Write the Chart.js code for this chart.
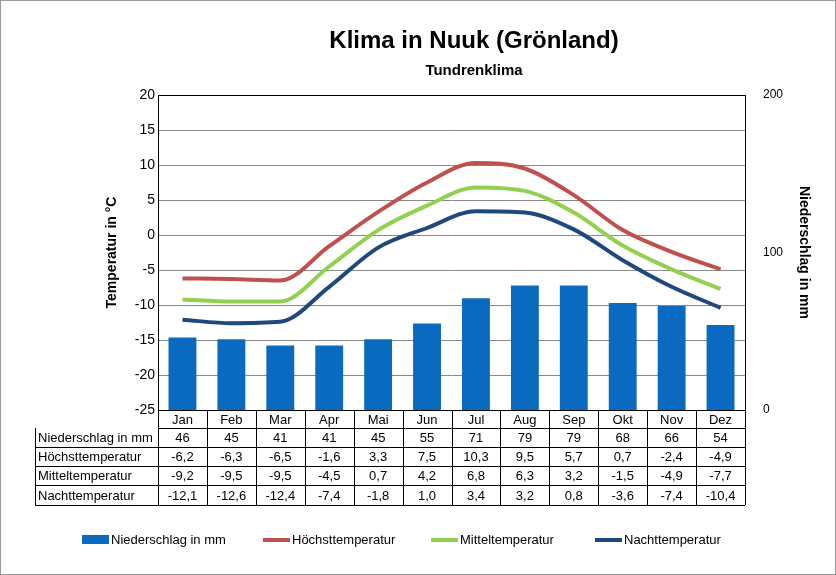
<!DOCTYPE html><html><head><meta charset="utf-8">
<script src="https://cdn.jsdelivr.net/npm/chart.js@4"></script>
<style>body{margin:0;background:#fff}#w{width:836px;height:575px;position:relative}</style></head><body>
<div id="w"><canvas id="c" width="836" height="575"></canvas></div>
<script>
const months=['Jan','Feb','Mar','Apr','Mai','Jun','Jul','Aug','Sep','Okt','Nov','Dez'];
const niederschlag=[46,45,41,41,45,55,71,79,79,68,66,54];
const hoechst=[-6.2,-6.3,-6.5,-1.6,3.3,7.5,10.3,9.5,5.7,0.7,-2.4,-4.9];
const mittel=[-9.2,-9.5,-9.5,-4.5,0.7,4.2,6.8,6.3,3.2,-1.5,-4.9,-7.7];
const nacht=[-12.1,-12.6,-12.4,-7.4,-1.8,1.0,3.4,3.2,0.8,-3.6,-7.4,-10.4];
const rowNames=['Niederschlag in mm','Höchsttemperatur','Mitteltemperatur','Nachttemperatur'];
const colors=['#0A6ABF','#C0504D','#92D050','#1F497D'];
const deco={id:'deco',afterDraw(ch){
 const c=ch.ctx,a=ch.chartArea,xs=ch.scales.x;
 c.save();
 c.strokeStyle='#999';c.lineWidth=1;c.strokeRect(0.5,0.5,835,574);
 c.fillStyle='#000';c.textAlign='center';
 c.font='bold 24px Arial, "Liberation Sans"';c.fillText('Klima in Nuuk (Grönland)',474,48);
 c.font='bold 15px Arial, "Liberation Sans"';c.fillText('Tundrenklima',474,75);
 c.strokeStyle='#000';c.strokeRect(a.left+0.5,a.top+0.5,a.right-a.left,a.bottom-a.top);
 const rows=[410,428,447,466,485,505];const L=35;
 const w=(a.right-a.left)/12;
 c.beginPath();
 for(let i=0;i<rows.length;i++){const x0=i<=1?a.left:L;c.moveTo(x0,rows[i]+0.5);c.lineTo(a.right,rows[i]+0.5);}
 for(let k=0;k<=12;k++){const x=Math.round(a.left+k*w)+0.5;c.moveTo(x,rows[0]);c.lineTo(x,rows[5]);}
 c.moveTo(L+0.5,rows[1]);c.lineTo(L+0.5,rows[5]);
 c.stroke();
 const data=[niederschlag,hoechst,mittel,nacht];
 c.font='13px Arial, "Liberation Sans"';c.textBaseline='middle';
 months.forEach((m,i)=>c.fillText(m,xs.getPixelForValue(i),(rows[0]+rows[1])/2+1));
 for(let r=0;r<4;r++){const y=(rows[r+1]+rows[r+2])/2+1;
  c.textAlign='left';c.fillText(rowNames[r],L+3,y);c.textAlign='center';
  data[r].forEach((v,i)=>{const t=r==0?String(v):v.toFixed(1).replace('.',',');c.fillText(t,xs.getPixelForValue(i),y);});}
 const items=[[82,'Niederschlag in mm',0],[263,'Höchsttemperatur',1],[431,'Mitteltemperatur',2],[595,'Nachttemperatur',3]];
 c.textAlign='left';
 items.forEach(([x,t,i])=>{c.fillStyle=colors[i];
  if(i==0)c.fillRect(x,535,27,9);else c.fillRect(x,538,27,4);
  c.fillStyle='#000';c.fillText(t,x+29,540);});
 c.restore();}};
new Chart(document.getElementById('c'),{
 data:{labels:months,datasets:[
  {type:'bar',label:'Niederschlag in mm',data:niederschlag,yAxisID:'y2',backgroundColor:colors[0],barPercentage:0.57,categoryPercentage:1,order:2},
  {type:'line',label:'Höchsttemperatur',data:hoechst,yAxisID:'y',borderColor:colors[1],borderWidth:4,pointRadius:0,cubicInterpolationMode:'monotone',order:1},
  {type:'line',label:'Mitteltemperatur',data:mittel,yAxisID:'y',borderColor:colors[2],borderWidth:4,pointRadius:0,cubicInterpolationMode:'monotone',order:1},
  {type:'line',label:'Nachttemperatur',data:nacht,yAxisID:'y',borderColor:colors[3],borderWidth:4,pointRadius:0,cubicInterpolationMode:'monotone',order:1}]},
 options:{responsive:false,animation:false,
  layout:{padding:{left:100,right:20,top:95,bottom:147}},
  plugins:{legend:{display:false},tooltip:{enabled:false}},
  scales:{
   x:{grid:{display:false},border:{display:false},ticks:{display:false},afterFit(s){s.height=18;}},
   y:{min:-25,max:20,ticks:{stepSize:5,color:'#000',font:{size:14,family:'Arial'}},grid:{color:'#888',drawTicks:false},border:{display:false},
      title:{display:true,text:'Temperatur in °C',color:'#000',font:{size:14,weight:'bold',family:'Arial'}},afterFit(s){s.width=58;}},
   y2:{position:'right',min:0,max:200,afterBuildTicks(s){s.ticks=[{value:0},{value:100},{value:200}];},ticks:{color:'#000',font:{size:12,family:'Arial'},padding:10},grid:{display:false},border:{display:false},
      title:{display:true,text:'Niederschlag in mm',color:'#000',font:{size:14,weight:'bold',family:'Arial'}},afterFit(s){s.width=71;}}}},
 plugins:[deco]});
</script></body></html>
